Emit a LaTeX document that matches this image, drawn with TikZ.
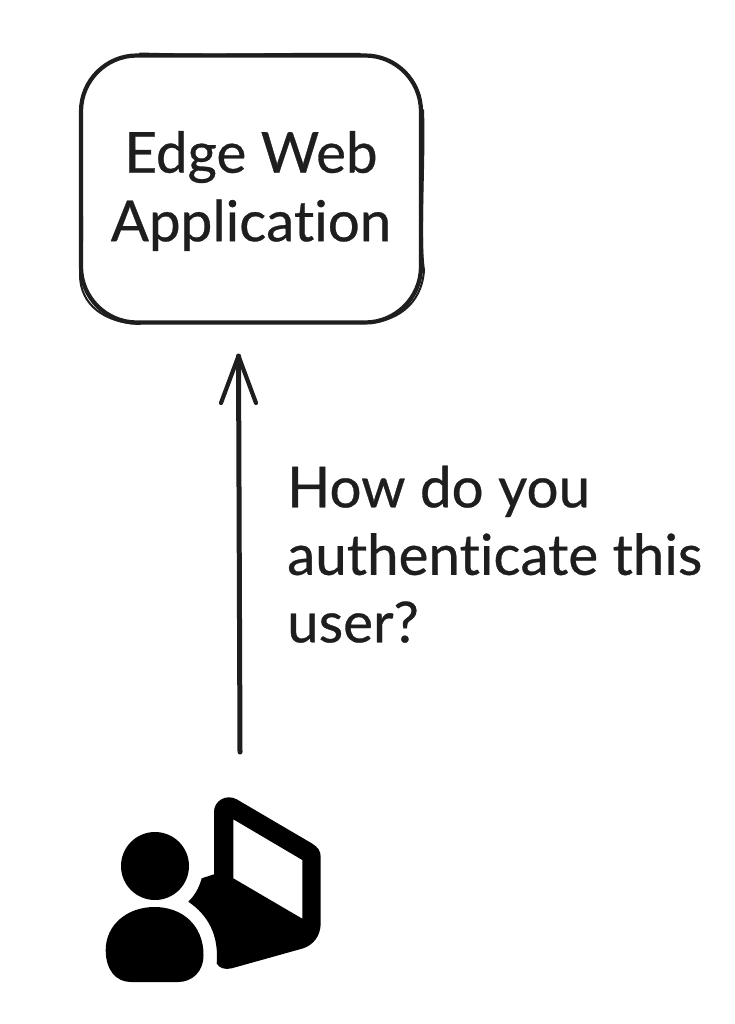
\documentclass[tikz,border=0pt]{standalone}
\usepackage{fontspec}
\setmainfont[FakeBold=0.55,Ligatures=NoCommon]{Lato}
\definecolor{ink}{HTML}{1E1E1E}
\tikzset{
  x=1pt,y=-1pt,
  sketch/.style={draw=ink,line width=4.2pt,line cap=round,line join=round},
  sketchthin/.style={draw=ink,line width=2pt,line cap=round,line join=round},
  lab/.style={text=ink,inner sep=0pt,font=\fontsize{56.5}{67.5}\selectfont},
}
\begin{document}
\begin{tikzpicture}
\useasboundingbox[fill=white] (0,0) rectangle (735,1024);
% box
\node[lab,sketch,rounded corners=56pt,minimum width=340pt,minimum height=267pt,align=center] (box) at (251,189) {};
\draw[sketchthin] (82,110) .. controls (79,160) and (85,240) .. (80,275) .. controls (80,305) and (105,323) .. (140,324);
\draw[sketchthin] (423,110) .. controls (425,160) and (419,240) .. (424,270) .. controls (422,305) and (395,324) .. (360,323);
\draw[sketchthin] (140,53.5) .. controls (220,56) and (300,53) .. (360,54);
\node[lab,align=center,anchor=center] (title) at (251,191) {Edge Web\\[1pt]Application};
% connector
\coordinate (tail) at (240,752);
\coordinate (tip) at (238.5,356);
\coordinate (barbL) at (221,403);
\coordinate (barbR) at (256,403);
\draw[sketch,line width=5pt] (tail) -- (tip);
\draw[sketch] (barbL) -- (tip) -- (barbR);
\node[lab,align=left,anchor=north west] (question) at (287,465.5) {How do you\\authenticate this\\user?};
% user icon
\fill[black] (155,866) circle[radius=34];
\fill[black] (105.7,950) .. controls (105.7,925) and (127,907) .. (154.5,907)
  .. controls (182,907) and (203.5,925) .. (203.5,955)
  .. controls (203.5,972) and (192,982) .. (178,982)
  -- (131,982) .. controls (116,982) and (105.7,970) .. (105.7,950) -- cycle;
\fill[black,even odd rule]
  (214,874.3) -- (214,811.7)
  .. controls (214,801) and (226,793.5) .. (236.7,799.3)
  -- (311.7,843.3) .. controls (318,847) and (320.7,851) .. (320.7,857)
  -- (320.7,923.3) .. controls (320.7,936) and (313,945) .. (303.3,948.3)
  -- (231.7,968.3) .. controls (225,970) and (219,968) .. (216.7,963.5)
  .. controls (219,935) and (208,915) .. (188.3,901.7)
  .. controls (195,895) and (199,888) .. (201.7,878.3)
  -- cycle
  (233.3,819.3) -- (302.3,860) -- (302.3,918.7) -- (233.3,878.3) -- cycle;
\end{tikzpicture}
\end{document}
